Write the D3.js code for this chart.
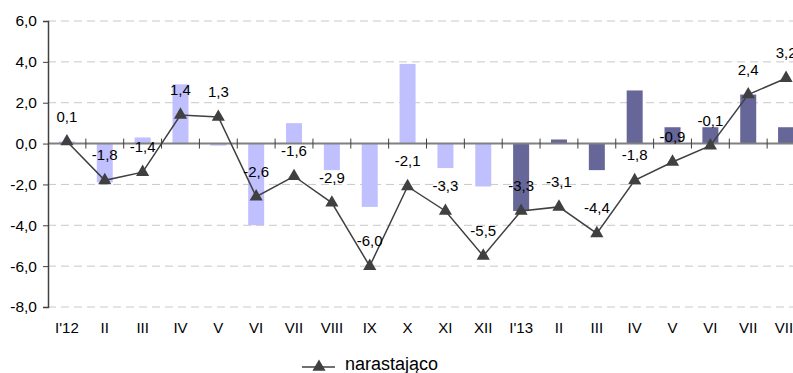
<!DOCTYPE html>
<html>
<head>
<meta charset="utf-8">
<script src="https://cdn.jsdelivr.net/npm/d3@7"></script>
<style>
  body { margin: 0; background: #fff; }
  text { font-family: "Liberation Sans", Arial, sans-serif; fill: #000; }
</style>
</head>
<body>
<div id="chart"></div>
<script>
const months = ["I'12","II","III","IV","V","VI","VII","VIII","IX","X","XI","XII",
                "I'13","II ","III ","IV ","V ","VI ","VII ","VIII "]
// miesięczne zmiany (2012 jasne, 2013 ciemne)
const bars2012 = [0.1, -1.9, 0.3, 2.9, -0.1, -4.0, 1.0, -1.3, -3.1, 3.9, -1.2, -2.1]
const bars2013 = [-3.3, 0.2, -1.3, 2.6, 0.8, 0.8, 2.4, 0.8]
// narastająco
const cumulative = [0.1, -1.8, -1.4, 1.4, 1.3, -2.6, -1.6, -2.9, -6.0, -2.1, -3.3, -5.5,
                    -3.3, -3.1, -4.4, -1.8, -0.9, -0.1, 2.4, 3.2]
const yTicks = [-8, -6, -4, -2, 0, 2, 4, 6]

const width = 793
const height = 373
const margin = { top: 21, left: 48, bottom: 67 }

const svg = d3.select("#chart").append("svg")
  .attr("width", width)
  .attr("height", height)

const x = d3.scaleBand().domain(months).range([margin.left, margin.left + 20 * 37.85])
const y = d3.scaleLinear().domain([-8, 6]).range([height - margin.bottom + 1, margin.top])

// przecinek dziesiętny i zwykły minus
const fmt = d => d3.format(".1f")(d).replace(".", ",").replace("\u2212", "-")

// siatka
svg.append("g").selectAll("line")
  .data(yTicks.filter(d => d !== 0))
  .join("line")
  .attr("x1", margin.left).attr("x2", width)
  .attr("y1", d => y(d)).attr("y2", d => y(d))
  .attr("stroke", "#c8c8c8")
  .attr("stroke-dasharray", "8,5")

// słupki
const bars = months.map((m, i) => ({
  m, v: i < 12 ? bars2012[i] : bars2013[i - 12], dark: i >= 12
}))
const bw = 16
svg.append("g").selectAll("rect")
  .data(bars)
  .join("rect")
  .attr("x", d => x(d.m) + x.bandwidth() / 2 - bw / 2)
  .attr("width", bw)
  .attr("y", d => y(Math.max(0, d.v)))
  .attr("height", d => Math.abs(y(d.v) - y(0)))
  .attr("fill", d => d.dark ? "#666699" : "#c0c0ff")

// oś zero z kreskami
const zero = svg.append("g")
zero.append("line")
  .attr("x1", margin.left).attr("x2", width)
  .attr("y1", y(0)).attr("y2", y(0))
  .attr("stroke", "#808080").attr("stroke-width", 2)
zero.selectAll("line.tick")
  .data(months.slice(1))
  .join("line")
  .attr("class", "tick")
  .attr("x1", d => x(d)).attr("x2", d => x(d))
  .attr("y1", y(0) - 5).attr("y2", y(0) + 5)
  .attr("stroke", "#404040")

// oś Y
const yAxis = d3.axisLeft(y).tickValues(yTicks).tickFormat(fmt).tickSize(5).tickPadding(6)
const yAxisGroup = svg.append("g")
  .attr("transform", `translate(${margin.left},0)`)
  .call(yAxis)
yAxisGroup.select(".domain").attr("stroke", "#404040").attr("stroke-width", 1.5)
yAxisGroup.selectAll(".tick line").attr("stroke", "#404040")
yAxisGroup.selectAll("text").attr("font-size", 15.5).attr("font-family", null).attr("fill", "#000")

// etykiety X
const xAxisGroup = svg.append("g")
  .attr("transform", `translate(0,${y(-8) + 15})`)
  .call(d3.axisBottom(x).tickSize(0).tickPadding(0).tickFormat(d => d.trim()))
xAxisGroup.select(".domain").remove()
xAxisGroup.selectAll("text").attr("font-size", 15).attr("font-family", null).attr("fill", "#000")

// linia narastająco
const line = d3.line().x((d, i) => x(months[i]) + x.bandwidth() / 2).y(d => y(d))
svg.append("path")
  .datum(cumulative)
  .attr("d", line)
  .attr("fill", "none")
  .attr("stroke", "#404040")
  .attr("stroke-width", 1.5)

const tri = d3.symbol().type(d3.symbolTriangle).size(75)
svg.append("g").selectAll("path")
  .data(cumulative)
  .join("path")
  .attr("d", tri)
  .attr("transform", (d, i) => `translate(${x(months[i]) + x.bandwidth() / 2},${y(d)})`)
  .attr("fill", "#404040")

svg.append("g").selectAll("text")
  .data(cumulative)
  .join("text")
  .attr("x", (d, i) => x(months[i]) + x.bandwidth() / 2)
  .attr("y", d => y(d) - 20)
  .attr("text-anchor", "middle")
  .attr("font-size", 15)
  .text(fmt)

// legenda
const legend = svg.append("g").attr("transform", "translate(302,367)")
legend.append("line").attr("x1", 0).attr("x2", 33).attr("stroke", "#404040").attr("stroke-width", 1.5)
legend.append("path").attr("d", tri).attr("transform", "translate(17,0)").attr("fill", "#404040")
legend.append("text").attr("x", 43).attr("y", 3).attr("font-size", 18).text("narastająco")
</script>
</body>
</html>
